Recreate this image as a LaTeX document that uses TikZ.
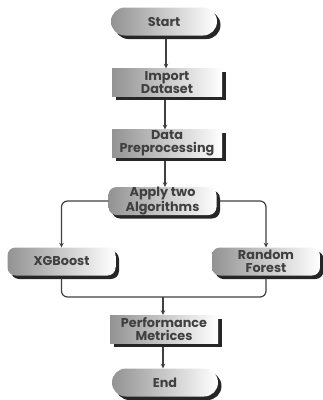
\documentclass[tikz,border=0pt]{standalone}
\usepackage{fontspec}
\setmainfont{Poppins}
\usetikzlibrary{shadows,arrows.meta,shapes.misc}
\begin{document}
\begin{tikzpicture}[x=1pt,y=-1pt,
  base/.style={left color=gray!85, right color=white, draw=none,
    drop shadow={shadow xshift=3.5pt, shadow yshift=-3.5pt, fill=black!85, opacity=1},
    font=\bfseries\fontsize{12.8}{12.5}\selectfont, text=black!75, align=center,
    inner sep=0pt, minimum height=28pt},
  term/.style={base, rounded corners=14pt, minimum width=106pt},
  procbox/.style={base, minimum width=110pt},
  algbox/.style={base, rounded corners=8pt, minimum width=108pt},
  conn/.style={draw=black!75, line width=1.2pt, -{Stealth[length=4.5pt,width=4.5pt]}},
  link/.style={draw=black!75, line width=1.2pt, rounded corners=6pt}]
\useasboundingbox (0,0) rectangle (323,400);
\node[term] (start) at (164,21.5) {Start};
\node[procbox] (imp) at (167,82.5) {Import\\Dataset};
\node[procbox] (prep) at (167,143.5) {Data\\Preprocessing};
\node[algbox] (apply) at (162.5,201) {Apply two\\Algorithms};
\node[algbox] (xgb) at (61.5,261.5) {XGBoost};
\node[algbox] (rf) at (266,261.5) {Random\\Forest};
\node[procbox, minimum width=108pt] (perf) at (164,329) {Performance\\Metrices};
\node[term] (end) at (165,382.5) {End};
\coordinate (a1) at (166,39);
\draw[conn] (a1) -- (imp.north -| a1);
\coordinate (a2) at (165,100);
\draw[conn] (a2) -- (prep.north -| a2);
\coordinate (a3) at (165,161);
\draw[conn] (a3) -- (apply.north -| a3);
\draw[conn, rounded corners=6pt] (apply.west) -| (xgb.north);
\draw[conn, rounded corners=6pt] ([xshift=3pt]apply.east) -| (rf.north);
\coordinate (mid) at (163,297);
\draw[link] ([yshift=-3pt]xgb.south) |- (mid) -| ([yshift=-3pt]rf.south);
\draw[conn] (mid) -- (perf.north -| mid);
\coordinate (a4) at (163,347);
\draw[conn] (a4) -- (end.north -| a4);
\end{tikzpicture}
\end{document}
